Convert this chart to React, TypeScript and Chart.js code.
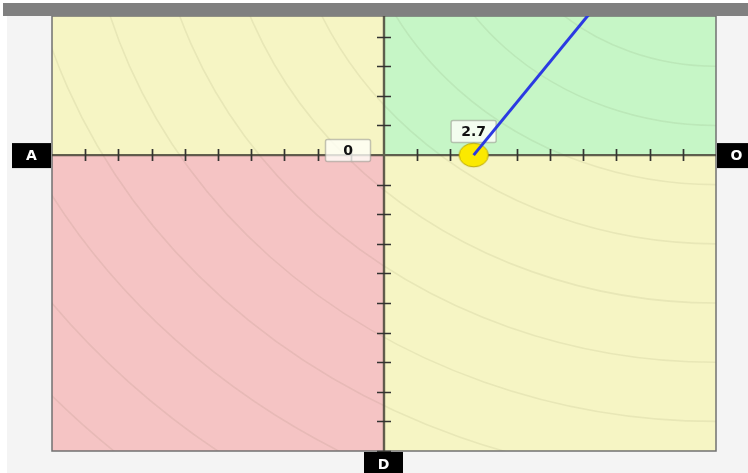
import { useEffect, useRef } from 'react';
import { Chart, registerables } from 'chart.js';

Chart.register(...registerables);

// ---- data ----
const X_MIN = -10;
const X_MAX = 10;
const Y_MIN = -10;
const Y_MAX = 4.7;
const X_TICKS = [-9, -8, -7, -6, -5, -4, -3, -2, -1, 1, 2, 3, 4, 5, 6, 7, 8, 9];
const Y_TICKS = [-10, -9, -8, -7, -6, -5, -4, -3, -2, -1, 1, 2, 3, 4];
const POINT_X = [2.7];
const POINT_Y = [0];
const TARGET_X = 10;
const TARGET_Y = 10;
const CONTOUR_RADII = [1, 3, 5, 7, 9, 11, 13, 15, 17, 19, 21, 23, 25, 27, 29];
const AXIS_LEFT_LABEL = 'A';
const AXIS_RIGHT_LABEL = 'O';
const AXIS_BOTTOM_LABEL = 'D';

const FONT = "bold 14px 'DejaVu Sans', Verdana, sans-serif";

function makeDot(): HTMLCanvasElement {
  const c = document.createElement('canvas');
  c.width = 32;
  c.height = 26;
  const g = c.getContext('2d')!;
  g.beginPath();
  g.ellipse(16, 13, 14.6, 11.8, 0, 0, Math.PI * 2);
  g.fillStyle = '#fbe900';
  g.fill();
  g.lineWidth = 1;
  g.strokeStyle = 'rgba(175,155,0,0.85)';
  g.stroke();
  return c;
}

function roundRect(ctx: CanvasRenderingContext2D, x: number, y: number, w: number, h: number, r: number) {
  ctx.beginPath();
  ctx.moveTo(x + r, y);
  ctx.lineTo(x + w - r, y);
  ctx.quadraticCurveTo(x + w, y, x + w, y + r);
  ctx.lineTo(x + w, y + h - r);
  ctx.quadraticCurveTo(x + w, y + h, x + w - r, y + h);
  ctx.lineTo(x + r, y + h);
  ctx.quadraticCurveTo(x, y + h, x, y + h - r);
  ctx.lineTo(x, y + r);
  ctx.quadraticCurveTo(x, y, x + r, y);
  ctx.closePath();
}

const quadPlugin = {
  id: 'quadPlugin',
  beforeDraw(chart: any) {
    const ctx: CanvasRenderingContext2D = chart.ctx;
    const W = chart.width;
    const H = chart.height;
    const { left, right, top, bottom } = chart.chartArea;
    const px = (v: number) => chart.scales.x.getPixelForValue(v);
    const py = (v: number) => chart.scales.y.getPixelForValue(v);
    const cx = px(0);
    const cy = py(0);
    ctx.save();
    ctx.fillStyle = '#ffffff';
    ctx.fillRect(0, 0, W, H);
    ctx.fillStyle = '#f4f4f4';
    ctx.fillRect(7, 16, W - 7, H - 16);

    ctx.fillStyle = '#f6f5c4';
    ctx.fillRect(left, top, cx - left, cy - top);
    ctx.fillStyle = '#c6f6c6';
    ctx.fillRect(cx, top, right - cx, cy - top);
    ctx.fillStyle = '#f5c4c4';
    ctx.fillRect(left, cy, cx - left, bottom - cy);
    ctx.fillStyle = '#f6f5c4';
    ctx.fillRect(cx, cy, right - cx, bottom - cy);

    // contours around target
    ctx.beginPath();
    ctx.rect(left, top, right - left, bottom - top);
    ctx.clip();
    const tx = px(TARGET_X);
    const ty = py(TARGET_Y);
    ctx.strokeStyle = 'rgba(60,60,20,0.07)';
    ctx.lineWidth = 1.6;
    for (const r of CONTOUR_RADII) {
      const rx = px(r) - px(0);
      const ry = py(0) - py(r);
      ctx.beginPath();
      ctx.ellipse(tx, ty, rx, ry, 0, 0, Math.PI * 2);
      ctx.stroke();
    }
    ctx.restore();
  },
  beforeDatasetsDraw(chart: any) {
    const ctx: CanvasRenderingContext2D = chart.ctx;
    const { left, right, top, bottom } = chart.chartArea;
    const px = (v: number) => chart.scales.x.getPixelForValue(v);
    const py = (v: number) => chart.scales.y.getPixelForValue(v);
    const cx = px(0);
    const cy = py(0);
    ctx.save();
    // border
    ctx.strokeStyle = '#707070';
    ctx.lineWidth = 1.5;
    ctx.strokeRect(left, top, right - left, bottom - top);
    // axes
    ctx.strokeStyle = 'rgba(70,68,55,0.85)';
    ctx.lineWidth = 2.4;
    ctx.beginPath();
    ctx.moveTo(left, cy);
    ctx.lineTo(right, cy);
    ctx.moveTo(cx, top);
    ctx.lineTo(cx, bottom);
    ctx.stroke();
    // ticks
    ctx.strokeStyle = '#333330';
    ctx.lineWidth = 1.7;
    ctx.beginPath();
    for (const t of X_TICKS) {
      const x = Math.round(px(t)) + 0.5;
      ctx.moveTo(x, cy - 6);
      ctx.lineTo(x, cy + 6);
    }
    for (const t of Y_TICKS) {
      const y = Math.round(py(t)) + 0.5;
      ctx.moveTo(cx - 7, y);
      ctx.lineTo(cx + 7, y);
    }
    ctx.stroke();

    // value labels
    const box = (text: string, bx: number, by: number) => {
      ctx.font = FONT;
      const w = Math.max(45, ctx.measureText(text).width + 18);
      const h = 22;
      roundRect(ctx, bx - w / 2, by - h / 2, w, h, 2);
      ctx.fillStyle = 'rgba(255,255,250,0.78)';
      ctx.fill();
      ctx.strokeStyle = 'rgba(150,150,140,0.55)';
      ctx.lineWidth = 1.5;
      ctx.stroke();
      ctx.fillStyle = '#111';
      ctx.textAlign = 'center';
      ctx.textBaseline = 'middle';
      ctx.fillText(text, bx, by + 1);
    };
    box(String(POINT_Y[0]), cx - 36, py(POINT_Y[0]) - 4.5);
    box(String(POINT_X[0]), px(POINT_X[0]), py(POINT_Y[0]) - 23.5);
    ctx.restore();
  },
  afterDraw(chart: any) {
    const ctx: CanvasRenderingContext2D = chart.ctx;
    const W = chart.width;
    const { left, right, bottom } = chart.chartArea;
    const px = (v: number) => chart.scales.x.getPixelForValue(v);
    const py = (v: number) => chart.scales.y.getPixelForValue(v);
    const cx = px(0);
    const cy = py(0);
    ctx.save();
    ctx.fillStyle = '#808080';
    ctx.fillRect(3, 3, W - 3, 13);

    const tag = (text: string, x: number, y: number) => {
      ctx.fillStyle = '#000';
      ctx.fillRect(x, y, 39, 25);
      ctx.fillStyle = '#fff';
      ctx.font = FONT;
      ctx.textAlign = 'center';
      ctx.textBaseline = 'middle';
      ctx.fillText(text, x + 19.5, y + 13);
    };
    tag(AXIS_LEFT_LABEL, left - 40, cy - 12);
    tag(AXIS_RIGHT_LABEL, right + 1, cy - 12);
    tag(AXIS_BOTTOM_LABEL, cx - 20, bottom + 1);
    ctx.restore();
  },
};

export default function App() {
  const ref = useRef<HTMLCanvasElement>(null);
  useEffect(() => {
    if (!ref.current) return;
    const dot = makeDot();
    const chart = new Chart(ref.current, {
      type: 'scatter',
      data: {
        datasets: [
          {
            data: [
              { x: POINT_X[0], y: POINT_Y[0] },
              { x: TARGET_X, y: TARGET_Y },
            ],
            showLine: true,
            borderColor: '#2b3ae2',
            borderWidth: 3,
            pointRadius: 0,
            pointHoverRadius: 0,
          },
          {
            data: POINT_X.map((x, i) => ({ x, y: POINT_Y[i] })),
            pointStyle: dot as any,
            pointRadius: 13,
            pointHoverRadius: 13,
          },
        ],
      },
      options: {
        responsive: false,
        animation: false,
        events: [],
        layout: { padding: { left: 52, right: 32, top: 16, bottom: 22 } },
        scales: {
          x: { type: 'linear', min: X_MIN, max: X_MAX, display: false },
          y: { type: 'linear', min: Y_MIN, max: Y_MAX, display: false },
        },
        plugins: { legend: { display: false }, tooltip: { enabled: false } },
      },
      plugins: [quadPlugin],
    });
    return () => chart.destroy();
  }, []);
  return (
    <div style={{ position: 'absolute', left: 0, top: 0, width: 748, height: 473 }}>
      <canvas ref={ref} width={748} height={473} style={{ display: 'block', width: 748, height: 473 }} />
    </div>
  );
}
